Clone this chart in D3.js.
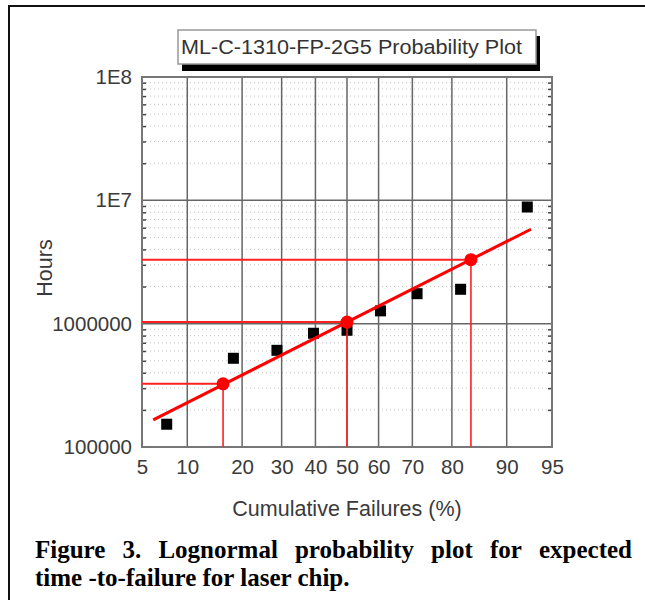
<!DOCTYPE html>
<html>
<head>
<meta charset="utf-8">
<script src="https://cdn.jsdelivr.net/npm/d3@7"></script>
<style>
  body { margin: 0; background: #fff; }
  svg { display: block; }
</style>
</head>
<body>
<svg width="645" height="600"></svg>
<script>
// values
const pTicks = [5, 10, 20, 30, 40, 50, 60, 70, 80, 90, 95];
const yTicks = [1e5, 1e6, 1e7, 1e8];
const yLabels = ["100000", "1000000", "1E7", "1E8"];
const failPct = [7.4, 18.1, 28.7, 39.4, 50, 60.6, 71.3, 81.9, 92.6];
const hours = [153000, 524000, 608000, 836000, 884000, 1270000, 1750000, 1900000, 8830000];
const fitPct = [6, 93];
const fitHours = [166000, 5830000];
const refPct = [16, 50, 84];
const refHours = [325000, 1030000, 3300000];

const svg = d3.select("svg");
const plotL = 142, plotR = 552, plotT = 77, plotB = 447;

// inverse normal cdf (Acklam), used to build the probability axis
function probit(p) {
    const a = [-39.69683028665376, 220.9460984245205, -275.9285104469687, 138.3577518672690, -30.66479806614716, 2.506628277459239];
    const b = [-54.47609879822406, 161.5858368580409, -155.6989798598866, 66.80131188771972, -13.28068155288572];
    const c = [-0.007784894002430293, -0.3223964580411365, -2.400758277161838, -2.549732539343734, 4.374664141464968, 2.938163982698783];
    const d = [0.007784695709041462, 0.3224671290700398, 2.445134137142996, 3.754408661907416];
    const plow = 0.02425;
    if (p < plow) {
        const q = Math.sqrt(-2 * Math.log(p));
        return (((((c[0]*q+c[1])*q+c[2])*q+c[3])*q+c[4])*q+c[5]) / ((((d[0]*q+d[1])*q+d[2])*q+d[3])*q+1);
    }
    if (p <= 1 - plow) {
        const q = p - 0.5, r = q * q;
        return (((((a[0]*r+a[1])*r+a[2])*r+a[3])*r+a[4])*r+a[5])*q / (((((b[0]*r+b[1])*r+b[2])*r+b[3])*r+b[4])*r+1);
    }
    const q = Math.sqrt(-2 * Math.log(1 - p));
    return -(((((c[0]*q+c[1])*q+c[2])*q+c[3])*q+c[4])*q+c[5]) / ((((d[0]*q+d[1])*q+d[2])*q+d[3])*q+1);
}

const zScale = d3.scaleLinear()
    .domain([probit(0.05), probit(0.95)])
    .range([plotL, plotR]);
const x = pct => zScale(probit(pct / 100));
const y = d3.scaleLog().domain([1e5, 1e8]).range([plotB, plotT]);

// outer frame
svg.append("rect")
    .attr("x", 9).attr("y", 6)
    .attr("width", 700).attr("height", 700)
    .attr("fill", "none")
    .attr("stroke", "#111")
    .attr("stroke-width", 2);

// minor horizontal grid (dotted)
const minor = [];
for (let dec = 1e5; dec < 1e8; dec *= 10) {
    for (let k = 2; k <= 9; k++) minor.push(dec * k);
}
svg.append("g")
    .selectAll("line")
    .data(minor)
    .join("line")
    .attr("x1", plotL).attr("x2", plotR)
    .attr("y1", d => y(d)).attr("y2", d => y(d))
    .attr("stroke", "#c4c4c4")
    .attr("stroke-width", 1)
    .attr("stroke-dasharray", "1,3");

// major grid
svg.append("g")
    .selectAll("line")
    .data(pTicks.slice(1, -1))
    .join("line")
    .attr("x1", d => x(d)).attr("x2", d => x(d))
    .attr("y1", plotT).attr("y2", plotB)
    .attr("stroke", "#666")
    .attr("stroke-width", 1.5);
svg.append("g")
    .selectAll("line")
    .data(yTicks.slice(1, -1))
    .join("line")
    .attr("x1", plotL).attr("x2", plotR)
    .attr("y1", d => y(d)).attr("y2", d => y(d))
    .attr("stroke", "#666")
    .attr("stroke-width", 1.5);

// minor tick marks on both sides
svg.append("g")
    .attr("transform", `translate(${plotL},0)`)
    .call(d3.axisLeft(y).tickValues(minor).tickSize(-4).tickFormat(""))
    .call(g => g.select(".domain").remove())
    .selectAll("line").attr("stroke", "#444").attr("stroke-width", 1.5);
svg.append("g")
    .attr("transform", `translate(${plotR},0)`)
    .call(d3.axisRight(y).tickValues(minor).tickSize(-4).tickFormat(""))
    .call(g => g.select(".domain").remove())
    .selectAll("line").attr("stroke", "#444").attr("stroke-width", 1.5);

// plot frame
svg.append("rect")
    .attr("x", plotL).attr("y", plotT)
    .attr("width", plotR - plotL).attr("height", plotB - plotT)
    .attr("fill", "none")
    .attr("stroke", "#777")
    .attr("stroke-width", 2);

// axes labels
const yAxis = svg.append("g")
    .attr("transform", `translate(${plotL},0)`)
    .call(d3.axisLeft(y).tickValues(yTicks).tickSize(0).tickPadding(10)
        .tickFormat((d, i) => yLabels[i]));
yAxis.select(".domain").remove();
yAxis.selectAll("text")
    .attr("font-family", "Liberation Sans, Arial, sans-serif")
    .attr("font-size", 20.5)
    .attr("fill", "#3a3a3a");

const xAxis = svg.append("g")
    .attr("transform", `translate(0,${plotB})`)
    .call(d3.axisBottom(zScale).tickValues(pTicks.map(p => probit(p / 100)))
        .tickSize(0).tickPadding(12)
        .tickFormat((d, i) => pTicks[i]));
xAxis.select(".domain").remove();
xAxis.selectAll("text")
    .attr("font-family", "Liberation Sans, Arial, sans-serif")
    .attr("font-size", 20.5)
    .attr("fill", "#3a3a3a");

svg.append("text")
    .attr("x", 347).attr("y", 516)
    .attr("text-anchor", "middle")
    .attr("font-family", "Liberation Sans, Arial, sans-serif")
    .attr("font-size", 21.5)
    .attr("fill", "#3a3a3a")
    .text("Cumulative Failures (%)");

svg.append("text")
    .attr("transform", "translate(52,268) rotate(-90)")
    .attr("text-anchor", "middle")
    .attr("font-family", "Liberation Sans, Arial, sans-serif")
    .attr("font-size", 21.5)
    .attr("fill", "#3a3a3a")
    .text("Hours");

// data squares
svg.append("g")
    .selectAll("rect")
    .data(failPct)
    .join("rect")
    .attr("x", (d, i) => x(d) - 5.5)
    .attr("y", (d, i) => y(hours[i]) - 5.5)
    .attr("width", 11).attr("height", 11)
    .attr("fill", "#000");

// reference lines at 16/50/84 %
const ref = svg.append("g").attr("stroke", "#ff2020");
ref.selectAll(".h")
    .data(refPct)
    .join("line")
    .attr("class", "h")
    .attr("x1", plotL).attr("x2", d => x(d))
    .attr("y1", (d, i) => y(refHours[i])).attr("y2", (d, i) => y(refHours[i]))
    .attr("stroke-width", 2);
ref.selectAll(".v")
    .data(refPct)
    .join("line")
    .attr("class", "v")
    .attr("x1", d => x(d)).attr("x2", d => x(d))
    .attr("y1", (d, i) => y(refHours[i])).attr("y2", plotB)
    .attr("stroke-width", 1.6);

// fitted line
svg.append("path")
    .datum(fitPct.map((p, i) => [p, fitHours[i]]))
    .attr("d", d3.line().x(d => x(d[0])).y(d => y(d[1])))
    .attr("stroke", "#ff0000")
    .attr("stroke-width", 3)
    .attr("fill", "none");

svg.append("g")
    .selectAll("circle")
    .data(refPct)
    .join("circle")
    .attr("cx", d => x(d))
    .attr("cy", (d, i) => y(refHours[i]))
    .attr("r", 6.5)
    .attr("fill", "#ff0000");

// title box with shadow
svg.append("rect")
    .attr("x", 182).attr("y", 36)
    .attr("width", 358).attr("height", 35)
    .attr("fill", "#000");
svg.append("rect")
    .attr("x", 178).attr("y", 30)
    .attr("width", 358).attr("height", 34)
    .attr("fill", "#fff")
    .attr("stroke", "#999")
    .attr("stroke-width", 1.5);
svg.append("text")
    .attr("x", 181).attr("y", 54)
    .attr("font-family", "Liberation Sans, Arial, sans-serif")
    .attr("font-size", 20.5)
    .attr("textLength", 341)
    .attr("lengthAdjust", "spacingAndGlyphs")
    .attr("fill", "#333")
    .text("ML-C-1310-FP-2G5 Probability Plot");

// caption, justified first line
const cap = svg.append("g")
    .attr("font-family", "Liberation Serif, Times New Roman, serif")
    .attr("font-weight", "bold")
    .attr("font-size", 25)
    .attr("fill", "#000");
const words = "Figure 3. Lognormal probability plot for expected".split(" ");
const tmp = words.map(w => cap.append("text").attr("y", 558).text(w));
const widths = tmp.map(t => t.node().getComputedTextLength());
const x0 = 35, x1 = 632;
const gap = (x1 - x0 - d3.sum(widths)) / (words.length - 1);
let cx = x0;
tmp.forEach((t, i) => { t.attr("x", cx); cx += widths[i] + gap; });
cap.append("text")
    .attr("x", x0).attr("y", 586)
    .text("time -to-failure for laser chip.");
</script>
</body>
</html>
